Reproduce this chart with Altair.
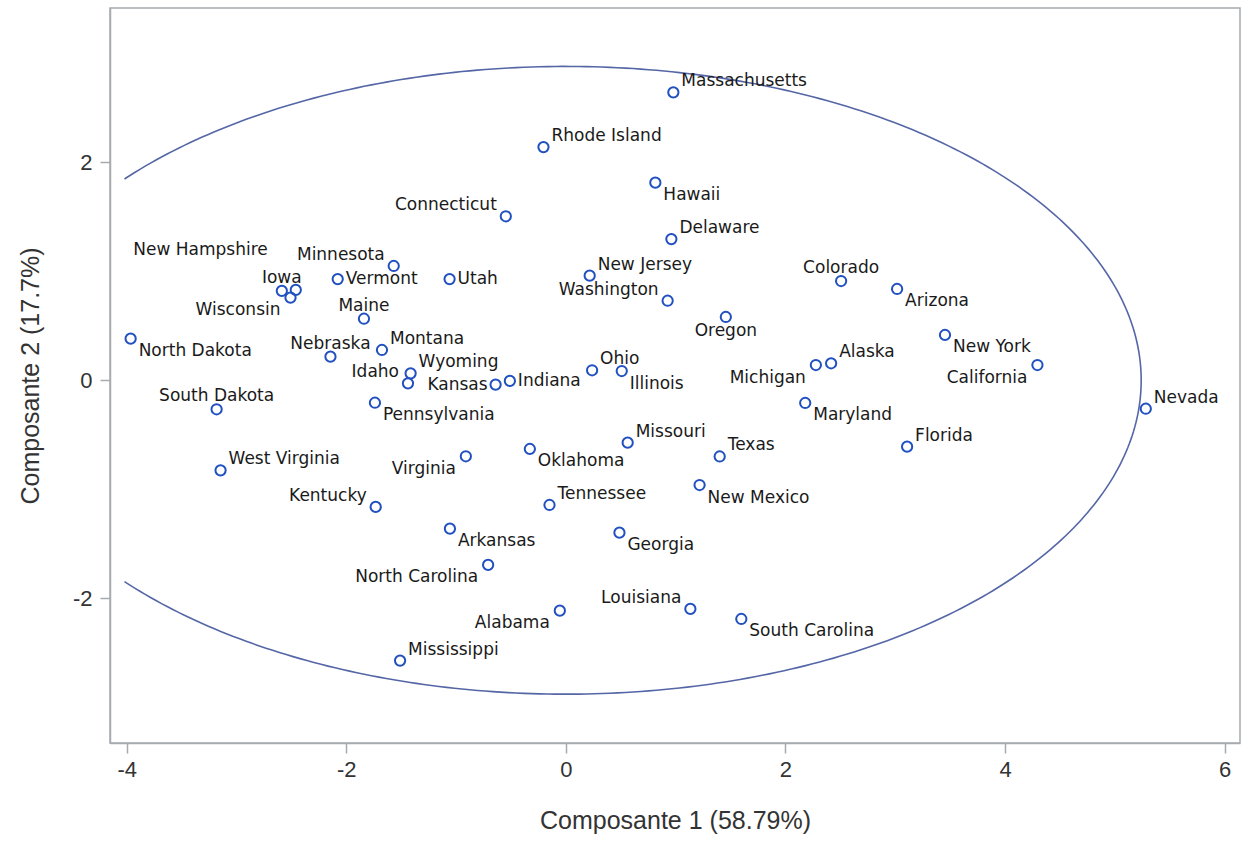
import math

import altair as alt
import pandas as pd

# Principal component scores of the 50 states
states = [
    "Massachusetts", "Rhode Island", "Hawaii", "Connecticut", "Delaware",
    "Minnesota", "Vermont", "Utah", "New Jersey", "New Hampshire",
    "Iowa", "Wisconsin", "Washington", "Colorado", "Arizona",
    "Maine", "Oregon", "North Dakota", "New York", "Nebraska",
    "Montana", "California", "Michigan", "Alaska", "Wyoming",
    "Idaho", "Ohio", "Illinois", "Kansas", "Indiana",
    "Nevada", "South Dakota", "Pennsylvania", "Maryland", "Missouri",
    "Florida", "Oklahoma", "Virginia", "Texas", "West Virginia",
    "New Mexico", "Kentucky", "Tennessee", "Arkansas", "Georgia",
    "North Carolina", "Alabama", "Louisiana", "South Carolina", "Mississippi",
]
pc1 = [
    0.979, -0.204, 0.815, -0.547, 0.961,
    -1.568, -2.078, -1.059, 0.217, -2.460,
    -2.587, -2.508, 0.927, 2.507, 3.017,
    -1.839, 1.457, -3.964, 3.453, -2.144,
    -1.675, 4.295, 2.277, 2.416, -1.414,
    -1.438, 0.239, 0.509, -0.640, -0.510,
    5.282, -3.181, -1.739, 2.180, 0.563,
    3.108, -0.328, -0.911, 1.401, -3.145,
    1.218, -1.732, -0.149, -1.056, 0.488,
    -0.708, -0.055, 1.134, 1.598, -1.510,
]
pc2 = [
    2.642, 2.140, 1.813, 1.505, 1.296,
    1.049, 0.929, 0.929, 0.960, 0.829,
    0.820, 0.758, 0.730, 0.911, 0.838,
    0.565, 0.581, 0.382, 0.416, 0.217,
    0.278, 0.140, 0.140, 0.156, 0.064,
    -0.028, 0.092, 0.085, -0.039, -0.006,
    -0.261, -0.266, -0.206, -0.208, -0.572,
    -0.609, -0.630, -0.697, -0.699, -0.826,
    -0.961, -1.162, -1.144, -1.361, -1.398,
    -1.694, -2.114, -2.098, -2.190, -2.572,
]

# Where each state's name sits relative to its marker
label_pos = [
    "ne", "ne", "se", "nw", "ne",
    "nw", "e", "e", "ne", "far",
    "n", "sw", "nw", "n", "se",
    "n", "s", "se", "se", "n",
    "ne", "sw", "sw", "ne", "ne",
    "nw", "ne", "se", "w", "e",
    "ne", "n", "se", "se", "ne",
    "ne", "se", "sw", "ne", "ne",
    "se", "nw", "ne", "se", "se",
    "sw", "sw", "nw", "se", "ne",
]

# Label placement styles: (align, dx, dy)
placements = {
    "ne": ("left", 8, -11),
    "se": ("left", 8, 12.5),
    "e": ("left", 8, 0),
    "nw": ("right", -9, -11),
    "sw": ("right", -10, 12.5),
    "w": ("right", -8, 0),
    "n": ("center", 0, -13),
    "s": ("center", 0, 14),
    "far": ("right", -28, -40),
}

# Prediction ellipse semi-axes and its left cut-off
ellipse_a = 5.24
ellipse_b = 2.88
ellipse_xmin = -4.02

x_domain = [-4.152, 6.14]
y_domain = [-3.328, 3.416]

points = pd.DataFrame({"state": states, "c1": pc1, "c2": pc2, "pos": label_pos})

# Ellipse path from the upper-left cut, round the right side, to the lower-left cut
t0 = math.acos(ellipse_xmin / ellipse_a)
n_seg = 360
thetas = [t0 - 2 * t0 * i / n_seg for i in range(n_seg + 1)]
ellipse = pd.DataFrame({
    "i": list(range(n_seg + 1)),
    "c1": [ellipse_a * math.cos(t) for t in thetas],
    "c2": [ellipse_b * math.sin(t) for t in thetas],
})

# Plain hyphen for negative tick values
plain_label = "toString(datum.value)"

x_enc = alt.X(
    "c1:Q",
    scale=alt.Scale(domain=x_domain, nice=False, zero=False),
    axis=alt.Axis(
        title="Composante 1 (58.79%)",
        values=[-4, -2, 0, 2, 4, 6],
        labelExpr=plain_label,
    ),
)
y_enc = alt.Y(
    "c2:Q",
    scale=alt.Scale(domain=y_domain, nice=False, zero=False),
    axis=alt.Axis(
        title="Composante 2 (17.7%)",
        values=[-2, 0, 2],
        labelExpr=plain_label,
    ),
)

ellipse_layer = alt.Chart(ellipse).mark_line(
    color="#5566A6", strokeWidth=1.6, clip=True
).encode(x=x_enc, y=y_enc, order="i:Q")

point_layer = alt.Chart(points).mark_point(
    shape="circle", filled=False, color="#2150C0", size=105,
    strokeWidth=2, opacity=1,
).encode(x=x_enc, y=y_enc)

text_layers = []
for code, (align, dx, dy) in placements.items():
    text_layers.append(
        alt.Chart(points)
        .transform_filter(alt.datum.pos == code)
        .mark_text(
            align=align, baseline="middle", dx=dx, dy=dy,
            font="DejaVu Sans", fontSize=17, color="#1a1a1a",
        )
        .encode(x=x_enc, y=y_enc, text="state:N")
    )

chart = (
    alt.layer(ellipse_layer, point_layer, *text_layers)
    .properties(
        width=1130,
        height=735,
        autosize=alt.AutoSizeParams(type="none"),
        padding={"left": 110, "top": 8, "right": 4, "bottom": 100},
    )
    .configure_view(stroke="#A7AAAE", strokeWidth=1.5)
    .configure_axis(
        grid=False,
        domainColor="#A7AAAE",
        domainWidth=1.5,
        tickColor="#A7AAAE",
        tickWidth=1.5,
        tickSize=10,
        labelFont="Liberation Sans",
        labelFontSize=22,
        labelColor="#333333",
        titleFont="Liberation Sans",
        titleFontSize=25,
        titleFontWeight="normal",
        titleColor="#333333",
    )
    .configure_axisX(labelPadding=6, titlePadding=28)
    .configure_axisY(labelPadding=8, titlePadding=29)
)

chart.save("out.html", embed_options={"renderer": "svg", "actions": False})
